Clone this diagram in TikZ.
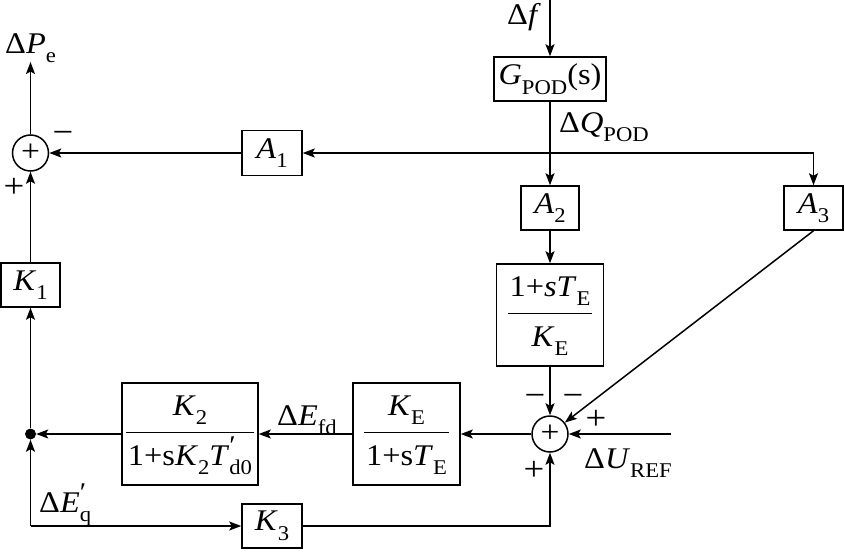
\documentclass[tikz,border=0pt]{standalone}
\usepackage{fontspec}
\setmainfont{Liberation Serif}[FakeStretch=1.08]
\usetikzlibrary{arrows.meta}
\newcommand\lo[1]{\raisebox{-9.5pt}{\fontsize{21}{21}\selectfont #1}}
\newcommand\pr{\rlap{\raisebox{11pt}{\fontsize{27}{27}\selectfont ′}}}
\newcommand\fr[2]{{\setlength\arrayrulewidth{1.4pt}\begin{tabular}{@{\hspace{2pt}}c@{\hspace{2pt}}}#1\\[7pt]\hline\rule{0pt}{32pt}#2\end{tabular}}}
\tikzset{
 box/.style={draw, line width=1.5pt, inner sep=0pt, font=\fontsize{30}{32}\selectfont},
 sum/.style={draw, circle, line width=1.5pt, minimum size=36pt, inner sep=0pt, font=\fontsize{31}{31}\selectfont},
 lab/.style={inner sep=0pt, font=\fontsize{30}{32}\selectfont},
 sign/.style={inner sep=0pt, font=\fontsize{34}{34}\selectfont},
 arr/.style={line width=1.5pt, -{Stealth[length=12pt,width=9pt,inset=2.5pt]}},
}
\begin{document}
\begin{tikzpicture}[x=1pt,y=-1pt]
\useasboundingbox (0,0) rectangle (845,551);
\node[box, minimum width=59pt, minimum height=44pt] (K1) at (30.5,285) {\textit{K}\lo{1}};
\node[box, minimum width=60pt, minimum height=45pt] (A1) at (272,153) {\textit{A}\lo{1}};
\node[box, minimum width=112pt, minimum height=44pt] (G) at (550,79) {\textit{G}\lo{POD}(s)};
\node[box, minimum width=58pt, minimum height=44pt] (A2) at (550,208) {\textit{A}\lo{2}};
\node[box, minimum width=59pt, minimum height=44pt] (A3) at (813.5,208) {\textit{A}\lo{3}};
\node[box, minimum width=107pt, minimum height=102pt] (F1) at (550,315) {\fr{1+\textit{sT}\lo{E}}{\textit{K}\lo{E}}};
\node[box, minimum width=107pt, minimum height=102pt] (F2) at (406.5,434) {\fr{\textit{K}\lo{E}}{1+s\textit{T}\lo{E}}};
\node[box, minimum width=136pt, minimum height=102pt] (F3) at (190,434) {\fr{\textit{K}\lo{2}}{1+s\textit{K}\lo{2}\textit{T}\pr\lo{d0}}};
\node[box, minimum width=60pt, minimum height=44pt] (K3) at (272,526) {\textit{K}\lo{3}};
\node[sum] (S1) at (30.5,153) {+};
\node[sum] (S2) at (550,434) {+};
\node[circle, fill, inner sep=0pt, minimum size=11pt] (D) at (30.5,434) {};
\coordinate (Pe) at (30.5,62);
\coordinate (Ftop) at (550,0);
\coordinate (Br) at (813.5,153);
\coordinate (U) at (671,434);
\coordinate (BL) at (30.5,526);
\draw[arr] (S1) -- (Pe);
\draw[arr] (K1) -- (S1);
\draw[arr] (D) -- (K1);
\draw[arr] (F3) -- (D);
\draw[arr] (F2) -- (F3);
\draw[arr] (S2) -- (F2);
\draw[arr] (U) -- (S2);
\draw[arr] (F1) -- (S2);
\draw[arr] (A3.south) -- (S2);
\draw[arr] (A2) -- (F1);
\draw[arr] (G) -- (A2);
\draw[arr] (Br) -- (A1);
\draw[arr] (Br) -- (A3);
\draw[arr] (A1) -- (S1);
\draw[arr] (Ftop) -- (G);
\draw[arr] (BL) -- (D);
\draw[arr] (BL) -- (K3);
\draw[arr] (K3) -| (S2);
\node[lab, anchor=base west] (lPe) at (5,53) {Δ\textit{P}\lo{e}};
\node[lab, anchor=base west] (lf) at (507,25) {Δ\textit{f}};
\node[lab, anchor=base west] (lQ) at (559,132) {Δ\textit{Q}\lo{POD}};
\node[lab, anchor=base west] (lU) at (584,468) {Δ\textit{U}\lo{REF}};
\node[lab, anchor=base west] (lE) at (277,425) {Δ\textit{E}\lo{fd}};
\node[lab, anchor=base west] (lEq) at (39,512) {Δ\textit{E}\pr\lo{q}};
\node[sign] (m1) at (63,137) {−};
\node[sign] (p1) at (14,188) {+};
\node[sign] (m2) at (535,400) {−};
\node[sign] (m3) at (573,400) {−};
\node[sign] (p2) at (596,420) {+};
\node[sign] (p3) at (534,471) {+};
\end{tikzpicture}
\end{document}
